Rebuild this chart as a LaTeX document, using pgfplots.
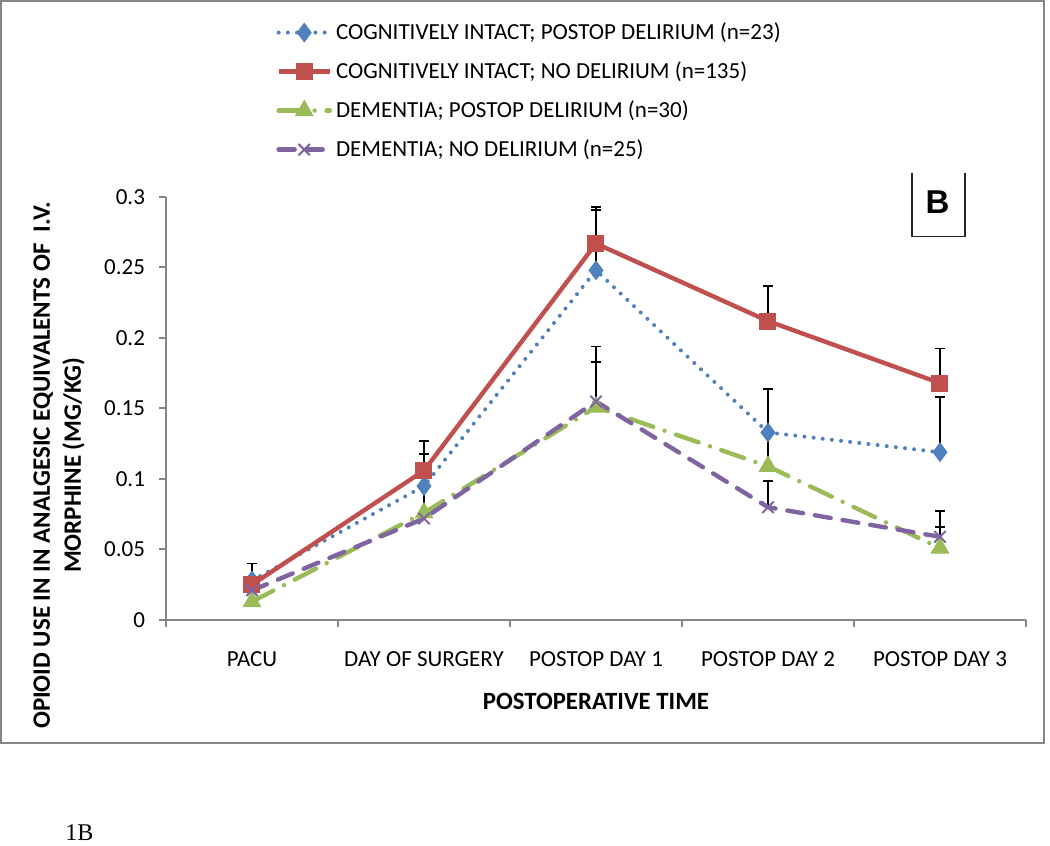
\documentclass[border=0pt]{standalone}
\usepackage{pgfplots}
\pgfplotsset{compat=1.18}
\usepackage{fontspec}
\setmainfont{Carlito}
\newfontfamily\arialfont{Liberation Sans}
\newfontfamily\timesfont{Liberation Serif}
\definecolor{cblue}{RGB}{79,129,189}
\definecolor{cred}{RGB}{192,80,77}
\definecolor{cgreen}{RGB}{155,187,89}
\definecolor{cpurple}{RGB}{128,100,162}
\definecolor{axgray}{RGB}{134,134,134}
\begin{document}
\begin{tikzpicture}
\path[use as bounding box] (0pt,0pt) rectangle (525pt,423pt);
\draw[axgray, line width=1pt] (0.5pt,51.5pt) rectangle (522pt,422.5pt);
\begin{axis}[
  at={(83pt,113pt)}, anchor=south west,
  scale only axis, width=430pt, height=211.5pt,
  xmin=-0.5, xmax=4.5, ymin=0, ymax=0.3,
  axis x line*=bottom, axis y line*=left,
  axis line style={axgray, line width=1pt},
  tick align=outside,
  xtick={0,1,2,3,4},
  xticklabels={PACU, DAY OF SURGERY, POSTOP DAY 1, POSTOP DAY 2, POSTOP DAY 3},
  minor xtick={-0.5,0.5,1.5,2.5,3.5,4.5},
  major x tick style={draw=none},
  minor x tick style={axgray, line width=1pt},
  minor tick length=3.5pt,
  ytick={0,0.05,0.1,0.15,0.2,0.25,0.3},
  y tick style={axgray, line width=1pt},
  major tick length=3.5pt,
  /pgf/number format/assume math mode=true,
  /pgf/number format/fixed, /pgf/number format/precision=2,
  yticklabel style={font=\fontsize{11.5}{13}\selectfont, xshift=-3.5pt},
  xticklabel style={font=\fontsize{11.5}{13}\selectfont, yshift=-9pt},
  xlabel={\textbf{POSTOPERATIVE TIME}},
  xlabel style={at={(axis description cs:0.5,-0.1915)}, anchor=center, font=\fontsize{12.4}{14}\selectfont},
  ylabel={\textbf{OPIOID USE IN IN ANALGESIC EQUIVALENTS OF~~I.V.}\\\textbf{MORPHINE (MG/KG)}},
  ylabel style={at={(axis description cs:-0.1244,0.366)}, anchor=center, align=center, font=\fontsize{12.5}{15.5}\selectfont},
  clip=false,
  legend style={at={(axis description cs:0.121,1.432)}, anchor=north west, draw=none, fill=none,
    font=\fontsize{11.5}{13}\selectfont, row sep=5.6pt, legend cell align=left},
  legend image code/.code={\draw[mark repeat=2,mark phase=2] plot coordinates {(0cm,0cm) (0.45cm,0cm) (0.9cm,0cm)};},
  error bars/error bar style={black, line width=0.9pt},
  error bars/error mark options={black, line width=0.9pt, mark size=2.6pt, rotate=90},
]
% error bars (drawn behind)
\addplot[draw=none, forget plot, error bars/.cd, y dir=plus, y explicit] coordinates {
 (0,0.025) +- (0,0.015) (1,0.106) +- (0,0.021) (2,0.267) +- (0,0.026) (3,0.212) +- (0,0.025) (4,0.168) +- (0,0.0245)};
\addplot[draw=none, forget plot, error bars/.cd, y dir=plus, y explicit] coordinates {
 (1,0.077) +- (0,0.0407) (2,0.248) +- (0,0.043) (3,0.109) +- (0,0.0548) (4,0.119) +- (0,0.039)};
\addplot[draw=none, forget plot, error bars/.cd, y dir=plus, y explicit] coordinates {
 (2,0.151) +- (0,0.032) (4,0.051) +- (0,0.0147)};
\addplot[draw=none, forget plot, error bars/.cd, y dir=plus, y explicit] coordinates {
 (2,0.155) +- (0,0.039) (3,0.080) +- (0,0.0186) (4,0.059) +- (0,0.0185)};
% series
\addplot[cblue, line width=2pt, line cap=round, dash pattern=on 0pt off 4.6pt,
  mark=diamond*, mark size=4.6pt, mark options={solid, fill=cblue, draw=cblue, line width=0.5pt}] coordinates {
 (0,0.028) (1,0.095) (2,0.248) (3,0.133) (4,0.119)};
\addlegendentry{COGNITIVELY INTACT; POSTOP DELIRIUM (n=23)}
\addplot[cred, line width=2.2pt, mark=square*, mark size=4pt, mark options={solid, fill=cred, draw=cred, line width=0.5pt}] coordinates {
 (0,0.025) (1,0.106) (2,0.267) (3,0.212) (4,0.168)};
\addlegendentry{COGNITIVELY INTACT; NO DELIRIUM (n=135)}
\addplot[cgreen, line width=2.2pt, line cap=round, dash pattern=on 12pt off 6pt on 0pt off 6pt,
  mark=triangle*, mark size=5pt, mark options={solid, fill=cgreen, draw=cgreen, line width=0.5pt}] coordinates {
 (0,0.013) (1,0.076) (2,0.151) (3,0.109) (4,0.051)};
\addlegendentry{DEMENTIA; POSTOP DELIRIUM (n=30)}
\addplot[cpurple, line width=2.2pt, line cap=round, dash pattern=on 8pt off 6pt,
  mark=x, mark size=3.8pt, mark options={solid, draw=cpurple, line width=1pt}] coordinates {
 (0,0.021) (1,0.072) (2,0.155) (3,0.080) (4,0.059)};
\addlegendentry{DEMENTIA; NO DELIRIUM (n=25)}
\end{axis}
\draw[black!85, line width=0.7pt] (456pt,336.6pt) -- (456pt,304.6pt) -- (482.5pt,304.6pt) -- (482.5pt,336.6pt);
\node[font=\arialfont\bfseries\fontsize{16.5}{18}\selectfont, inner sep=0pt] at (468.75pt,321.75pt) {B};
\node[font=\timesfont\fontsize{12}{14}\selectfont, anchor=base west, inner sep=0pt] at (32.5pt,2.5pt) {1B};
\end{tikzpicture}
\end{document}
